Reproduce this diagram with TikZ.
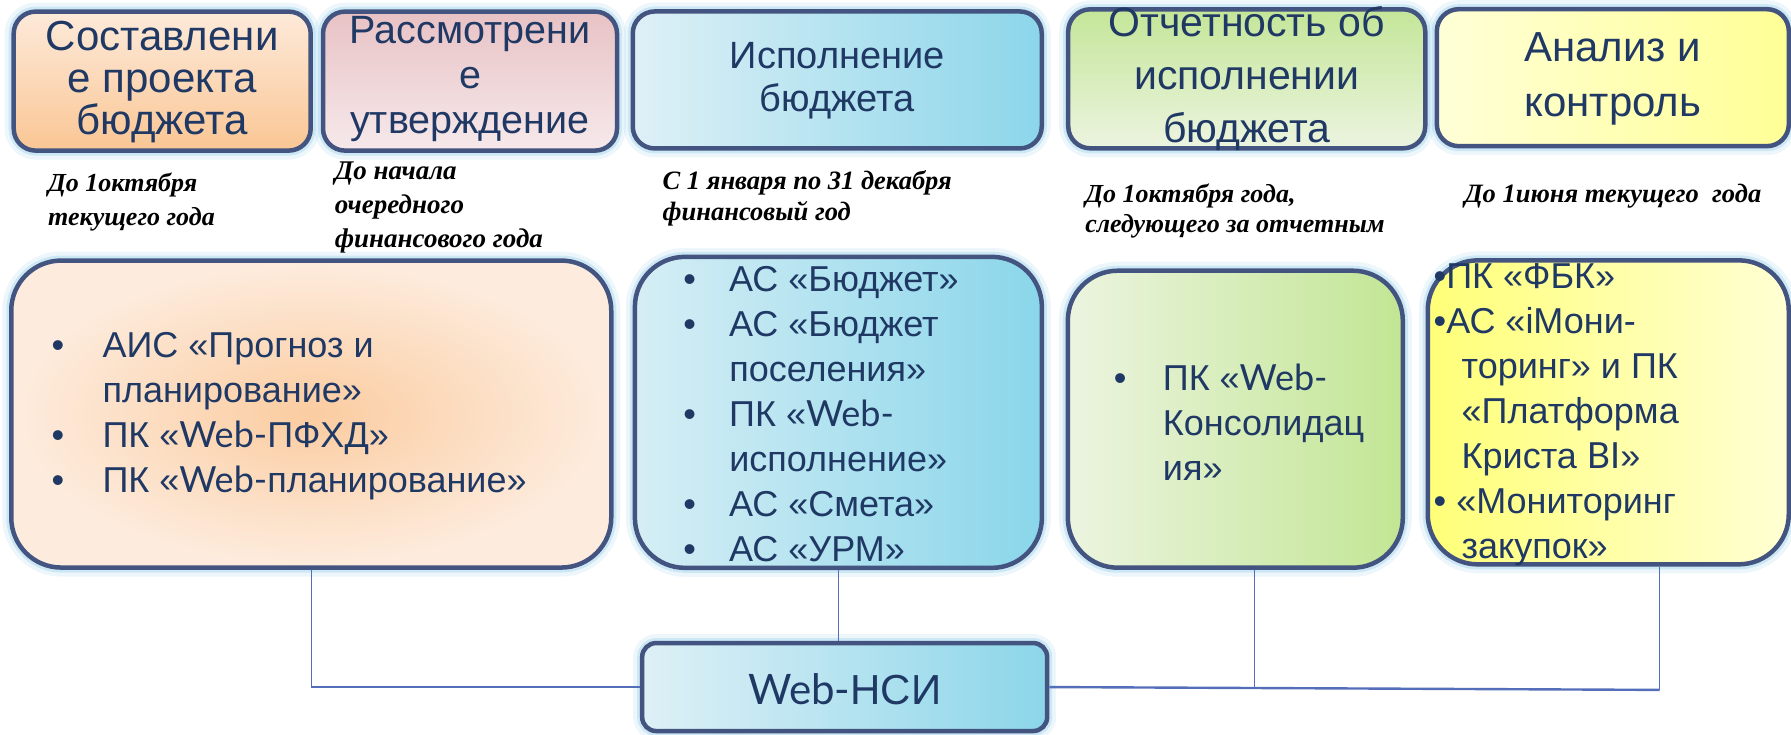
\documentclass[tikz,border=0pt]{standalone}
\usepackage{fontspec}
\setmainfont{Liberation Sans}
\newfontfamily\dserif{Liberation Serif}
\newfontfamily\webf{Lato}
\definecolor{bordc}{RGB}{68,84,128}
\definecolor{txtc}{RGB}{31,56,100}
\definecolor{linec}{RGB}{84,110,185}
\definecolor{glowc}{RGB}{160,210,236}
\tikzset{
  boxbase/.style={draw=bordc, line width=4.5pt, inner sep=0pt,
    preaction={draw=glowc, draw opacity=0.2, line width=18pt},
    preaction={draw=glowc, draw opacity=0.4, line width=10pt}},
  topbox/.style={boxbase, rounded corners=22pt},
  lowbox/.style={boxbase, rounded corners=50pt},
  nsibox/.style={boxbase, rounded corners=14pt},
  ttext/.style={text=txtc, align=center, inner sep=0pt},
  ltext/.style={text=txtc, align=left, inner sep=0pt, anchor=west,
    font=\fontsize{36pt}{45pt}\selectfont},
  dtext/.style={text=black, align=left, inner sep=0pt, anchor=west,
    font=\dserif\bfseries\itshape\fontsize{26pt}{34pt}\selectfont},
  vconn/.style={draw=linec, line width=1.3pt},
  hconn/.style={draw=linec, line width=2.4pt}
}
\begin{document}
\begin{tikzpicture}[x=1.14222pt, y=-1.14222pt]
\useasboundingbox (0,0) rectangle (1568,643);

% top stage boxes
\node[topbox, minimum width=297pt, minimum height=139pt,
  top color={rgb,255:red,253;green,234;blue,218}, bottom color={rgb,255:red,250;green,198;blue,148}] (h1) at (142,71) {};
\node[topbox, minimum width=294pt, minimum height=139pt,
  top color={rgb,255:red,232;green,194;blue,197}, bottom color={rgb,255:red,246;green,233;blue,235}] (h2) at (411.5,71) {};
\node[topbox, minimum width=409pt, minimum height=137pt,
  left color={rgb,255:red,222;green,240;blue,246}, right color={rgb,255:red,140;green,214;blue,234}] (h3) at (733,70) {};
\node[topbox, minimum width=357pt, minimum height=139pt,
  top color={rgb,255:red,196;green,230;blue,152}, bottom color={rgb,255:red,236;green,244;blue,224}] (h4) at (1091.5,69) {};
\node[topbox, minimum width=352pt, minimum height=137pt, shading angle=-45,
  left color={rgb,255:red,255;green,255;blue,215}, right color={rgb,255:red,255;green,255;blue,150}] (h5) at (1412,68) {};

\node[ttext, font=\fontsize{42pt}{42pt}\selectfont] (h1t) at (142,72) {Составлени\\е проекта\\бюджета};
\node[ttext, font=\fontsize{39.5pt}{45pt}\selectfont] (h2t) at (411.5,69) {Рассмотрени\\е\\утверждение};
\node[ttext, font=\fontsize{38pt}{43pt}\selectfont] (h3t) at (733,71) {Исполнение\\бюджета};
\node[ttext, font=\fontsize{41pt}{53pt}\selectfont] (h4t) at (1091.5,68.5) {Отчетность об\\исполнении\\бюджета};
\node[ttext, font=\fontsize{42pt}{55pt}\selectfont] (h5t) at (1412,69) {Анализ и\\контроль};

% dates
\node[dtext] (d1) at (42,177) {До 1октября\\текущего года};
\node[dtext, font=\dserif\bfseries\itshape\fontsize{27pt}{34pt}\selectfont] (d2) at (293,182) {До начала\\очередного\\финансового года};
\node[dtext, font=\dserif\bfseries\itshape\fontsize{26.5pt}{31pt}\selectfont] (d3) at (580,173.5) {С 1 января по 31 декабря\\финансовый год};
\node[dtext, font=\dserif\bfseries\itshape\fontsize{26pt}{30pt}\selectfont] (d4) at (950,185) {До 1октября года,\\следующего за отчетным};
\node[dtext, font=\dserif\bfseries\itshape\fontsize{26.5pt}{30pt}\selectfont] (d5) at (1282,172) {До 1июня текущего\ \ года};

% lower boxes
\node[lowbox, minimum width=600pt, minimum height=307pt,
  inner color={rgb,255:red,251;green,204;blue,160}, outer color={rgb,255:red,253;green,236;blue,222}] (b1) at (272.5,362.5) {};
\node[lowbox, minimum width=407pt, minimum height=311pt, shading angle=60,
  left color={rgb,255:red,214;green,238;blue,245}, right color={rgb,255:red,138;green,214;blue,234}] (b2) at (734,361) {};
\node[lowbox, minimum width=335pt, minimum height=297pt,
  left color={rgb,255:red,236;green,244;blue,224}, right color={rgb,255:red,194;green,230;blue,148}] (b3) at (1081.5,367) {};
\node[lowbox, minimum width=361pt, minimum height=304pt, shading angle=45,
  left color={rgb,255:red,255;green,255;blue,120}, right color={rgb,255:red,255;green,255;blue,212}] (b4) at (1408,361) {};

\node[ltext] (b1t) at (45,364) {\makebox[51pt][l]{•}АИС «Прогноз и\\\hspace*{51pt}планирование»\\\makebox[51pt][l]{•}ПК «{\webf Web-}ПФХД»\\\makebox[51pt][l]{•}ПК «{\webf Web-}планирование»};
\node[ltext] (b2t) at (598,362.5) {\makebox[46pt][l]{•}АС «Бюджет»\\\makebox[46pt][l]{•}АС «Бюджет\\\hspace*{46pt}поселения»\\\makebox[46pt][l]{•}ПК «{\webf Web-}\\\hspace*{46pt}исполнение»\\\makebox[46pt][l]{•}АС «Смета»\\\makebox[46pt][l]{•}АС «УРМ»};
\node[ltext] (b3t) at (975,370) {\makebox[49pt][l]{•}ПК «{\webf Web-}\\\hspace*{49pt}Консолидац\\\hspace*{49pt}ия»};
\node[ltext] (b4t) at (1255,363) {•ПК «ФБК»\\•АС «iМони-\\\hspace*{28pt}торинг» и ПК\\\hspace*{28pt}«Платформа\\\hspace*{28pt}Криста {\webf BI}»\\• «Мониторинг\\\hspace*{28pt}закупок»};

% Web-NSI
\node[nsibox, minimum width=405pt, minimum height=88pt,
  left color={rgb,255:red,222;green,240;blue,246}, right color={rgb,255:red,140;green,214;blue,234}] (nsi) at (739.5,601.5) {};
\node[ttext, font=\fontsize{42pt}{46pt}\selectfont] (nsit) at (739.5,603) {{\webf Web-}НСИ};

% connectors
\coordinate (j3) at (1098,602);
\coordinate (j4) at (1453,604);
\draw[vconn] (b1.south) -- (b1.south |- nsi.west);
\draw[hconn] (b1.south |- nsi.west) -- (nsi.west);
\draw[vconn] (b2.south) -- (b2.south |- nsi.north);
\draw[hconn] (nsi.east) -- (j4);
\draw[vconn] (b3.south -| j3) -- (j3);
\draw[vconn] (b4.south -| j4) -- (j4);
\end{tikzpicture}
\end{document}
